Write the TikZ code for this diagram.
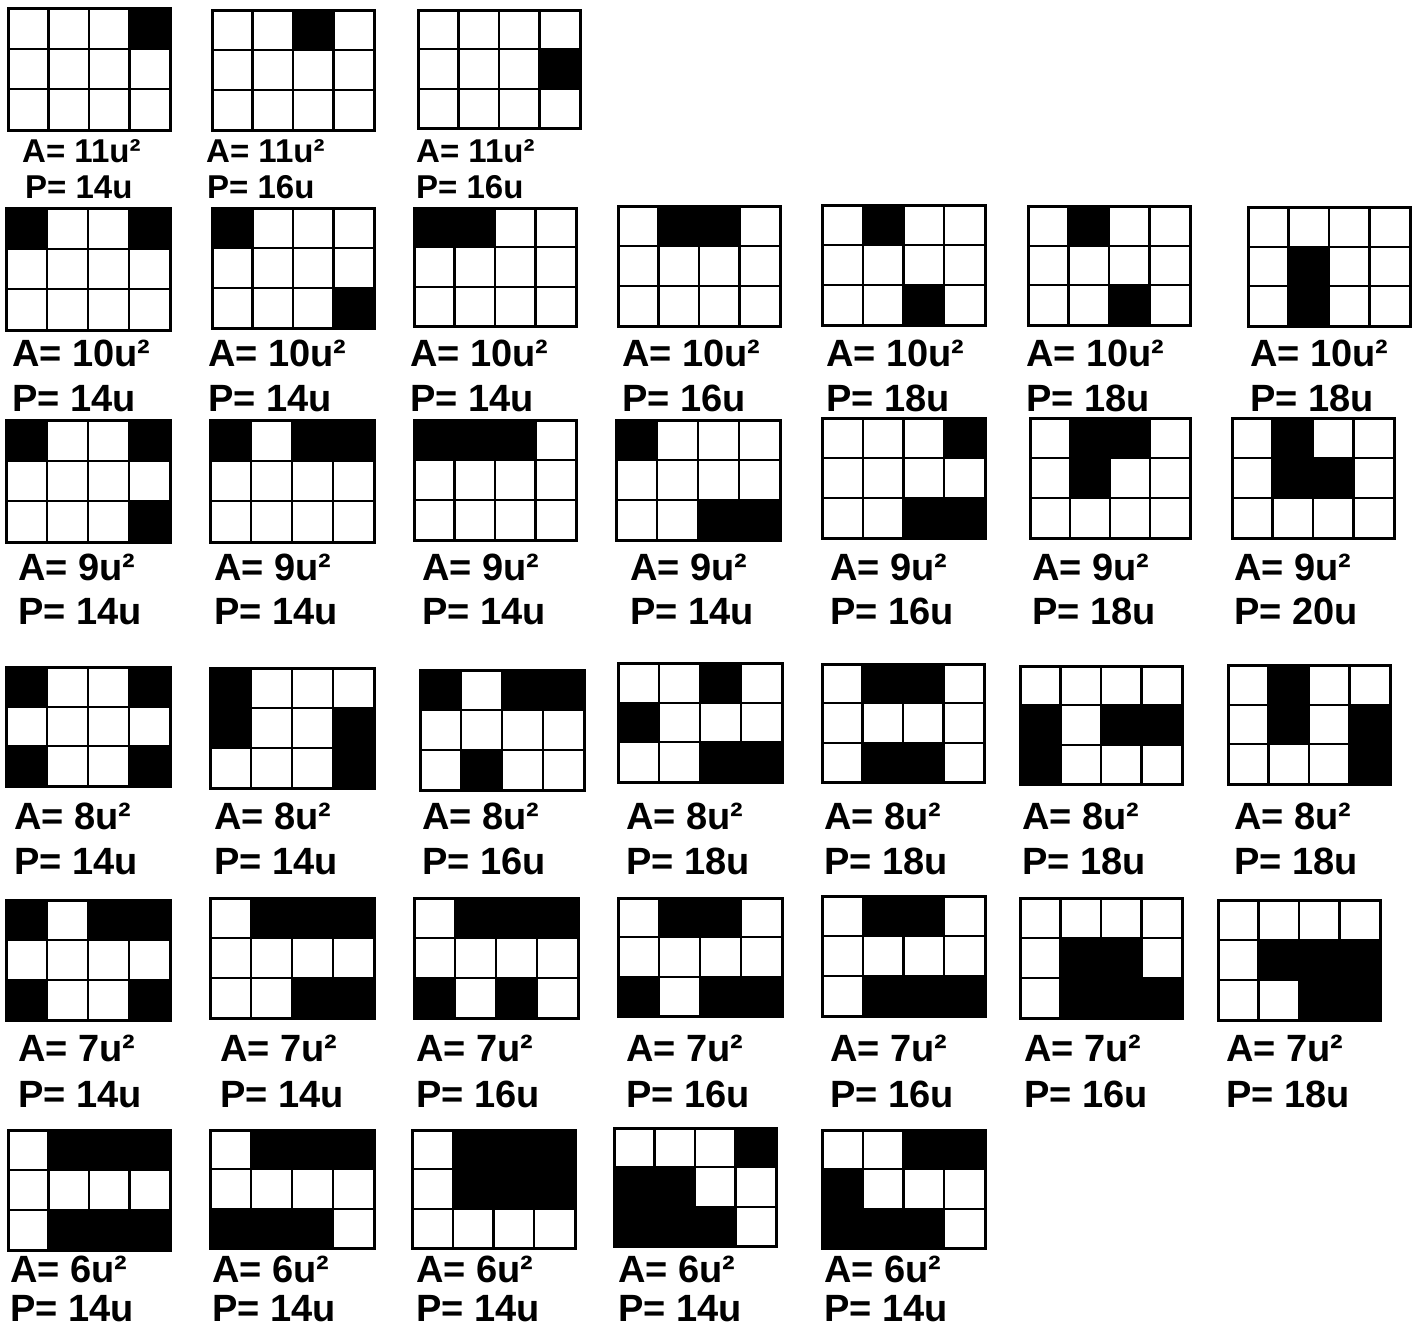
\documentclass[tikz,border=0pt]{standalone}
\usepackage{fontspec}
\setmainfont{Liberation Sans}
\tikzset{
  innerline/.style={line width=2.2pt,black},
  outerline/.style={line width=3pt,black},
  labbig/.style={anchor=base west,inner sep=0pt,font=\fontsize{38}{40}\selectfont\bfseries},
  labsmall/.style={anchor=base west,inner sep=0pt,font=\fontsize{33}{35}\selectfont\bfseries}
}
\newcommand\cellgrid[5]{%
  \pgfmathsetmacro\cw{(#3-#1)/4}%
  \pgfmathsetmacro\ch{(#4-#2)/3}%
  \foreach \c/\r in {#5} {
    \fill[black] ({#1+(\c-1)*\cw},{#2+(\r-1)*\ch}) rectangle ++(\cw,\ch);
  }
  \foreach \i in {1,2,3} \draw[innerline] ({#1+\i*\cw},#2) -- ({#1+\i*\cw},#4);
  \foreach \j in {1,2} \draw[innerline] (#1,{#2+\j*\ch}) -- (#3,{#2+\j*\ch});
  \draw[outerline] (#1,#2) rectangle (#3,#4);
}
\begin{document}
\begin{tikzpicture}[x=1pt,y=-1pt]
\fill[white] (0,0) rectangle (1422,1328);
\useasboundingbox (0,0) rectangle (1422,1328);
% Row 1
\cellgrid{8}{8}{170}{130}{4/1}
\cellgrid{212}{10}{374}{130}{3/1}
\cellgrid{418}{10}{580}{128}{4/2}
\node[labsmall] (a11) at (22,162) {A= 11u²};
\node[labsmall] (p11) at (25,198) {P= 14u};
\node[labsmall] (a12) at (206,162) {A= 11u²};
\node[labsmall] (p12) at (207,198) {P= 16u};
\node[labsmall] (a13) at (416,162) {A= 11u²};
\node[labsmall] (p13) at (416,198) {P= 16u};
% Row 2
\cellgrid{6}{208}{170}{330}{1/1,4/1}
\cellgrid{212}{208}{374}{328}{1/1,4/3}
\cellgrid{414}{208}{576}{326}{1/1,2/1}
\cellgrid{618}{206}{780}{326}{2/1,3/1}
\cellgrid{822}{205}{985}{325}{2/1,3/3}
\cellgrid{1028}{206}{1190}{325}{2/1,3/3}
\cellgrid{1248}{207}{1410}{326}{2/2,2/3}
\foreach \n/\x/\p in {1/12/14,2/208/14,3/410/14,4/622/16,5/826/18,6/1026/18,7/1250/18}{
  \node[labbig] (a2\n) at (\x,366) {A= 10u²};
  \node[labbig] (p2\n) at (\x,411) {P= \p u};
}
% Row 3
\cellgrid{6}{420}{170}{542}{1/1,4/1,4/3}
\cellgrid{210}{420}{374}{542}{1/1,3/1,4/1}
\cellgrid{414}{420}{576}{540}{1/1,2/1,3/1}
\cellgrid{616}{420}{780}{540}{1/1,3/3,4/3}
\cellgrid{822}{418}{985}{538}{4/1,3/3,4/3}
\cellgrid{1030}{418}{1190}{538}{2/1,3/1,2/2}
\cellgrid{1232}{418}{1394}{538}{2/1,2/2,3/2}
\foreach \n/\x/\p in {1/18/14,2/214/14,3/422/14,4/630/14,5/830/16,6/1032/18,7/1234/20}{
  \node[labbig] (a3\n) at (\x,580) {A= 9u²};
  \node[labbig] (p3\n) at (\x,624) {P= \p u};
}
% Row 4
\cellgrid{6}{667}{170}{786}{1/1,4/1,1/3,4/3}
\cellgrid{210}{668}{374}{788}{1/1,1/2,4/2,4/3}
\cellgrid{420}{670}{584}{790}{1/1,3/1,4/1,2/3}
\cellgrid{618}{663}{782}{782}{3/1,1/2,3/3,4/3}
\cellgrid{822}{664}{984}{782}{2/1,3/1,2/3,3/3}
\cellgrid{1020}{666}{1182}{784}{1/2,1/3,3/2,4/2}
\cellgrid{1228}{665}{1390}{784}{2/1,2/2,4/2,4/3}
\foreach \n/\x/\p in {1/14/14,2/214/14,3/422/16,4/626/18,5/824/18,6/1022/18,7/1234/18}{
  \node[labbig] (a4\n) at (\x,829) {A= 8u²};
  \node[labbig] (p4\n) at (\x,874) {P= \p u};
}
% Row 5
\cellgrid{6}{900}{170}{1020}{1/1,3/1,4/1,1/3,4/3}
\cellgrid{210}{898}{374}{1018}{2/1,3/1,4/1,3/3,4/3}
\cellgrid{414}{898}{578}{1018}{2/1,3/1,4/1,1/3,3/3}
\cellgrid{618}{898}{782}{1016}{2/1,3/1,1/3,3/3,4/3}
\cellgrid{822}{896}{985}{1016}{2/1,3/1,2/3,3/3,4/3}
\cellgrid{1020}{898}{1182}{1018}{2/2,3/2,2/3,3/3,4/3}
\cellgrid{1218}{900}{1380}{1020}{2/2,3/2,4/2,3/3,4/3}
\foreach \n/\x/\p in {1/18/14,2/220/14,3/416/16,4/626/16,5/830/16,6/1024/16,7/1226/18}{
  \node[labbig] (a5\n) at (\x,1061) {A= 7u²};
  \node[labbig] (p5\n) at (\x,1107) {P= \p u};
}
% Row 6
\cellgrid{8}{1130}{170}{1250}{2/1,3/1,4/1,2/3,3/3,4/3}
\cellgrid{210}{1130}{374}{1248}{2/1,3/1,4/1,1/3,2/3,3/3}
\cellgrid{412}{1130}{575}{1248}{2/1,3/1,4/1,2/2,3/2,4/2}
\cellgrid{614}{1128}{776}{1246}{4/1,1/2,2/2,1/3,2/3,3/3}
\cellgrid{822}{1130}{985}{1248}{3/1,4/1,1/2,1/3,2/3,3/3}
\foreach \n/\x in {1/10,2/212,3/416,4/618,5/824}{
  \node[labbig] (a6\n) at (\x,1282) {A= 6u²};
  \node[labbig] (p6\n) at (\x,1321) {P= 14u};
}
\end{tikzpicture}
\end{document}
